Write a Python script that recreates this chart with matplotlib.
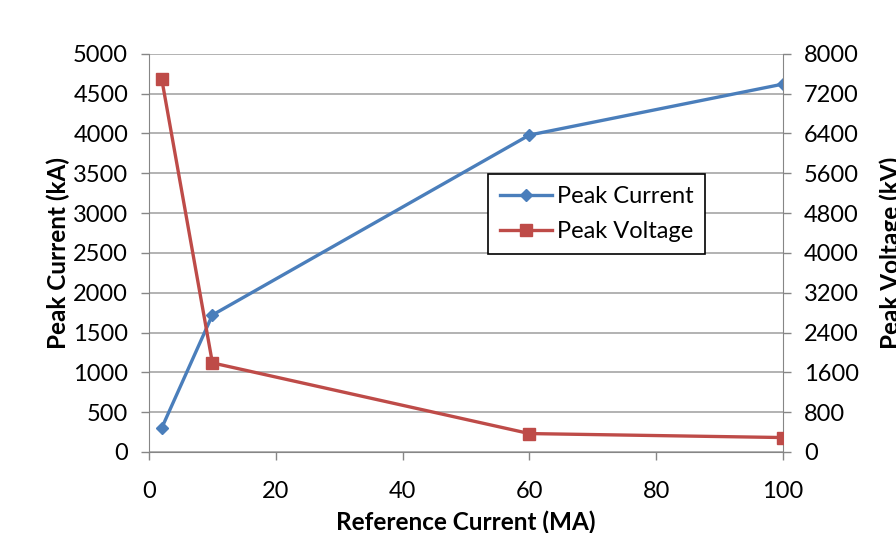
import matplotlib
matplotlib.use("Agg")
import matplotlib.pyplot as plt

plt.rcParams['font.family'] = ['Lato', 'DejaVu Sans']

# datos
ref_current = [2, 10, 60, 100]
peak_current = [300, 1720, 3980, 4620]
peak_voltage = [7500, 1790, 370, 290]

azul = '#4A7EBB'
rojo = '#BE4B48'

fig = plt.figure(figsize=(8.96, 5.33), dpi=100)
ax = fig.add_axes([0.1663, 0.152, 0.7075, 0.747])
ax2 = ax.twinx()

l1, = ax.plot(ref_current, peak_current, color=azul, lw=2.4, marker='D',
              markersize=6, label='Peak Current', zorder=3)
l2, = ax2.plot(ref_current, peak_voltage, color=rojo, lw=2.4, marker='s',
               markersize=8, label='Peak Voltage', zorder=3)

ax.set_xlim(0, 100)
ax.set_ylim(0, 5000)
ax2.set_ylim(0, 8000)
ax.set_xticks(range(0, 101, 20))
ax.set_yticks(range(0, 5001, 500))
ax2.set_yticks(range(0, 8001, 800))

ax.grid(axis='y', color='#A6A6A6', lw=1.2)
ax.set_axisbelow(True)

for a in (ax, ax2):
    for s in a.spines.values():
        s.set_visible(False)
    a.tick_params(labelsize=17, length=6, width=1, color='#868686', pad=9)
ax.tick_params(axis='x', pad=15)
ax.spines['left'].set_visible(True)
ax.spines['left'].set_color('#868686')
ax.spines['bottom'].set_visible(True)
ax.spines['bottom'].set_color('#868686')
ax2.spines['right'].set_visible(True)
ax2.spines['right'].set_color('#868686')

ax.set_ylabel('Peak Current (kA)', fontsize=17.5, fontweight='bold', labelpad=2)
ax2.set_ylabel('Peak Voltage (kV)', fontsize=17.5, fontweight='bold', labelpad=15)
ax.set_xlabel('Reference Current (MA)', fontsize=17.5, fontweight='bold', labelpad=6)

leg = ax.legend(handles=[l1, l2], loc='upper left', bbox_to_anchor=(0.535, 0.697),
                fontsize=17, frameon=True, fancybox=False, edgecolor='black',
                framealpha=1, handlelength=2.2, borderpad=0.5, labelspacing=0.6,
                handletextpad=0.2, borderaxespad=0)
leg.get_frame().set_linewidth(1.2)
leg.set_zorder(10)

fig.savefig('out.png', dpi=100)
